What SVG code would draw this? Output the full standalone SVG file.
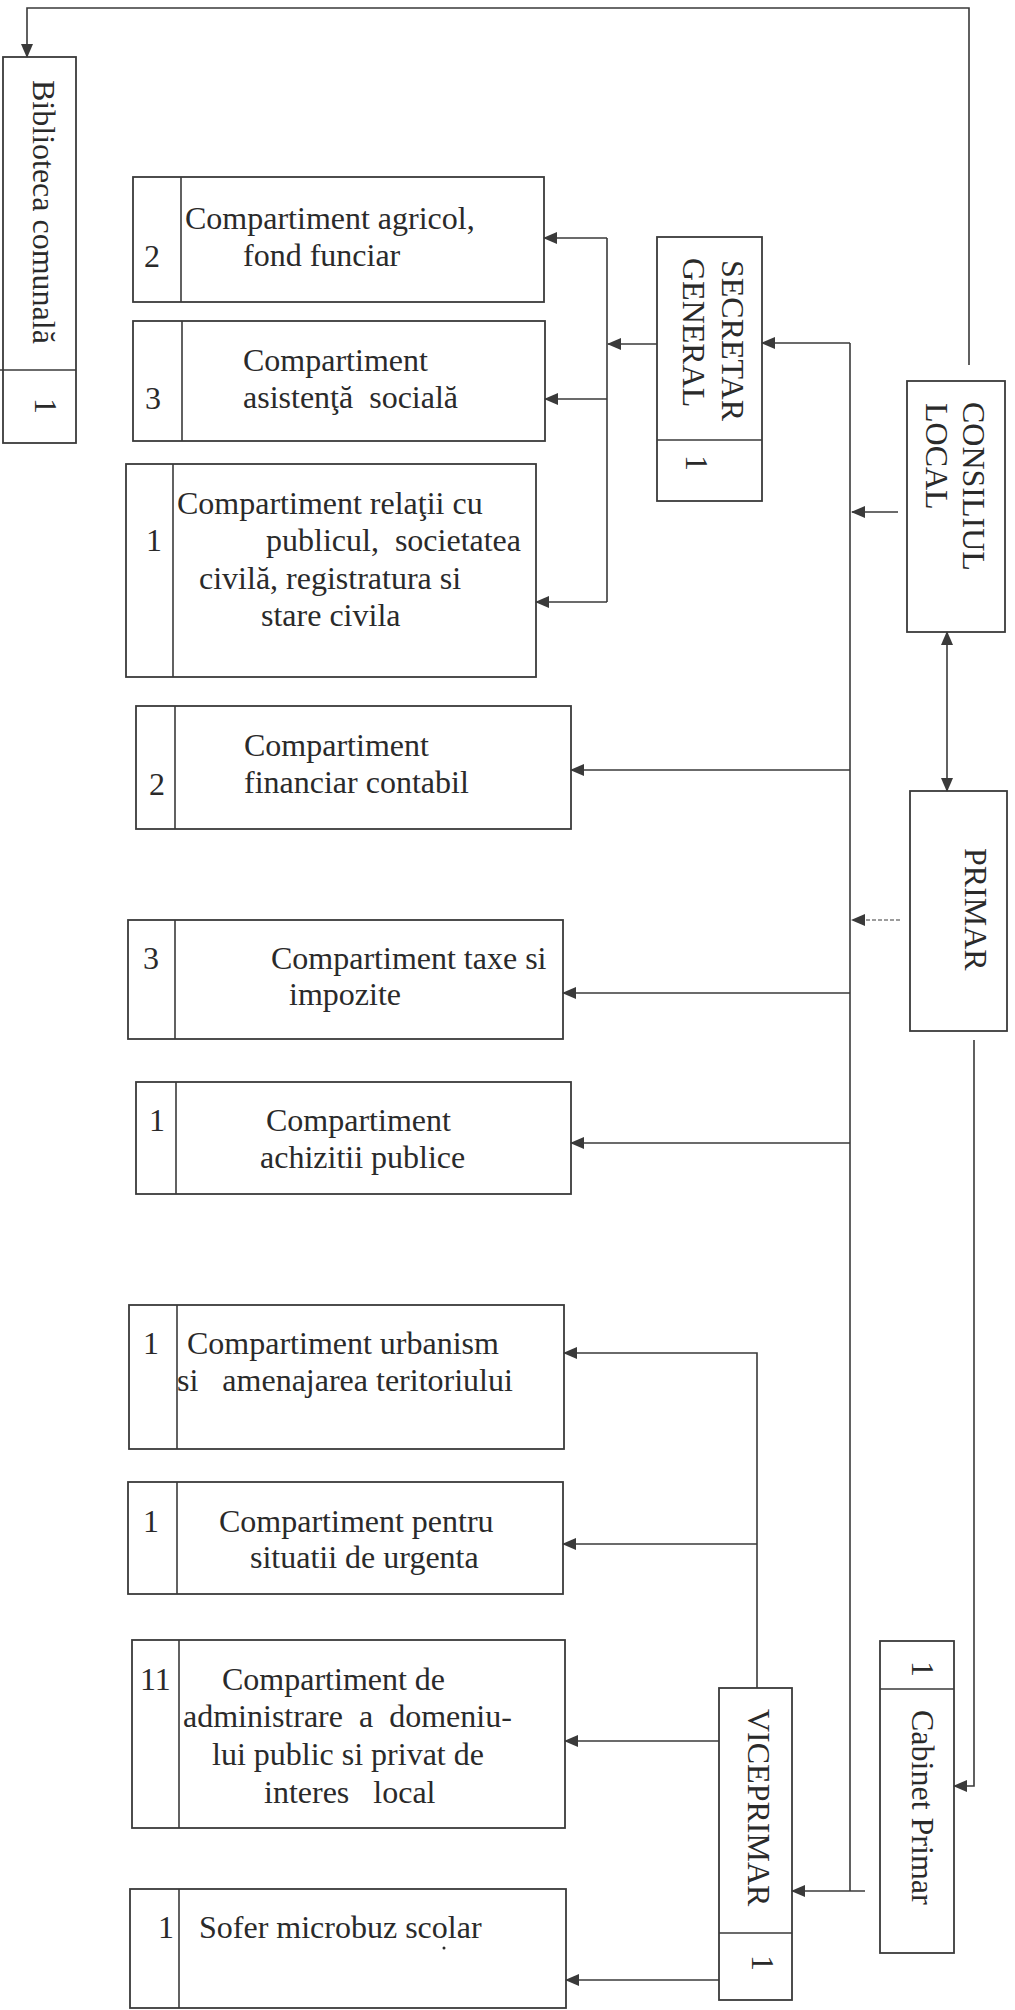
<svg xmlns="http://www.w3.org/2000/svg" width="1015" height="2010" viewBox="0 0 1015 2010">
<style>
.box{fill:none;stroke:#3a3a3a;stroke-width:1.8}
.div{stroke:#3a3a3a;stroke-width:1.6}
.con{fill:none;stroke:#3a3a3a;stroke-width:1.6}
.dash{stroke-dasharray:4 2;stroke-width:1.2}
text{font-family:"Liberation Serif","Times New Roman",serif;font-size:32px;fill:#2a2a2a}
</style>
<defs>
<marker id="arr" markerUnits="userSpaceOnUse" markerWidth="14" markerHeight="12" refX="13" refY="6" orient="auto-start-reverse" viewBox="0 0 14 12">
<path d="M0,0 L14,6 L0,12 z" fill="#3a3a3a"/>
</marker>
</defs>
<rect width="1015" height="2010" fill="#ffffff"/>

<g id="connectors">
<path class="con" d="M969,365 V8 H27 V57" marker-end="url(#arr)"/>
<path class="con" d="M898,512 H852" marker-end="url(#arr)"/>
<path class="con dash" d="M900,920 H852" marker-end="url(#arr)"/>
<path class="con" d="M947,632 V791" marker-start="url(#arr)" marker-end="url(#arr)"/>
<path class="con" d="M850,343 V1891"/>
<path class="con" d="M850,343 H762" marker-end="url(#arr)"/>
<path class="con" d="M865,1891 H792" marker-end="url(#arr)"/>
<path class="con" d="M657,344 H608" marker-end="url(#arr)"/>
<path class="con" d="M607,238 V602"/>
<path class="con" d="M607,238 H544" marker-end="url(#arr)"/>
<path class="con" d="M607,399 H545" marker-end="url(#arr)"/>
<path class="con" d="M607,602 H536" marker-end="url(#arr)"/>
<path class="con" d="M850,770 H571" marker-end="url(#arr)"/>
<path class="con" d="M850,993 H563" marker-end="url(#arr)"/>
<path class="con" d="M850,1143 H571" marker-end="url(#arr)"/>
<path class="con" d="M974,1040 V1786 H954" marker-end="url(#arr)"/>
<path class="con" d="M757,1688 V1353 H564" marker-end="url(#arr)"/>
<path class="con" d="M757,1544 H563" marker-end="url(#arr)"/>
<path class="con" d="M719,1741 H565" marker-end="url(#arr)"/>
<path class="con" d="M719,1980 H566" marker-end="url(#arr)"/>
</g>

<g id="biblioteca">
<rect class="box" x="3" y="57" width="73" height="386"/>
<line class="div" x1="0" y1="370" x2="76" y2="370"/>
<text transform="translate(33,80) rotate(90)">Biblioteca comunală</text>
<text transform="translate(35,398) rotate(90)">1</text>
</g>

<g id="consiliul">
<rect class="box" x="907" y="381" width="98" height="251"/>
<text transform="translate(963,402) rotate(90)">CONSILIUL</text>
<text transform="translate(926,403) rotate(90)">LOCAL</text>
</g>

<g id="primar">
<rect class="box" x="910" y="791" width="97" height="240"/>
<text transform="translate(965,848) rotate(90)">PRIMAR</text>
</g>

<g id="secretar">
<rect class="box" x="657" y="237" width="105" height="264"/>
<line class="div" x1="657" y1="440" x2="762" y2="440"/>
<text transform="translate(722,260) rotate(90)">SECRETAR</text>
<text transform="translate(683,258) rotate(90)">GENERAL</text>
<text transform="translate(686,455) rotate(90)">1</text>
</g>

<g id="agricol">
<rect class="box" x="133" y="177" width="411" height="125"/>
<line class="div" x1="181" y1="177" x2="181" y2="302"/>
<text x="144" y="267">2</text>
<text x="185" y="229">Compartiment agricol,</text>
<text x="243" y="266">fond funciar</text>
</g>

<g id="asistenta">
<rect class="box" x="133" y="321" width="412" height="120"/>
<line class="div" x1="182" y1="321" x2="182" y2="441"/>
<text x="145" y="409">3</text>
<text x="243" y="371">Compartiment</text>
<text x="243" y="408" xml:space="preserve">asistenţă  socială</text>
</g>

<g id="relatii">
<rect class="box" x="126" y="464" width="410" height="213"/>
<line class="div" x1="173" y1="464" x2="173" y2="677"/>
<text x="146" y="551">1</text>
<text x="177" y="514">Compartiment relaţii cu</text>
<text x="266" y="551" xml:space="preserve">publicul,  societatea</text>
<text x="199" y="589">civilă, registratura si</text>
<text x="261" y="626">stare civila</text>
</g>

<g id="financiar">
<rect class="box" x="136" y="706" width="435" height="123"/>
<line class="div" x1="175" y1="706" x2="175" y2="829"/>
<text x="149" y="795">2</text>
<text x="244" y="756">Compartiment</text>
<text x="244" y="793">financiar contabil</text>
</g>

<g id="taxe">
<rect class="box" x="128" y="920" width="435" height="119"/>
<line class="div" x1="175" y1="920" x2="175" y2="1039"/>
<text x="143" y="969">3</text>
<text x="271" y="969">Compartiment taxe si</text>
<text x="289" y="1005">impozite</text>
</g>

<g id="achizitii">
<rect class="box" x="136" y="1082" width="435" height="112"/>
<line class="div" x1="176" y1="1082" x2="176" y2="1194"/>
<text x="149" y="1131">1</text>
<text x="266" y="1131">Compartiment</text>
<text x="260" y="1168">achizitii publice</text>
</g>

<g id="urbanism">
<rect class="box" x="129" y="1305" width="435" height="144"/>
<line class="div" x1="177" y1="1305" x2="177" y2="1449"/>
<text x="143" y="1354">1</text>
<text x="187" y="1354">Compartiment urbanism</text>
<text x="177" y="1391" xml:space="preserve">si   amenajarea teritoriului</text>
</g>

<g id="urgenta">
<rect class="box" x="128" y="1482" width="435" height="112"/>
<line class="div" x1="177" y1="1482" x2="177" y2="1594"/>
<text x="143" y="1532">1</text>
<text x="219" y="1532">Compartiment pentru</text>
<text x="250" y="1568">situatii de urgenta</text>
</g>

<g id="administrare">
<rect class="box" x="132" y="1640" width="433" height="188"/>
<line class="div" x1="179" y1="1640" x2="179" y2="1828"/>
<text x="140" y="1690">11</text>
<text x="222" y="1690">Compartiment de</text>
<text x="183" y="1727" xml:space="preserve">administrare  a  domeniu-</text>
<text x="212" y="1765">lui public si privat de</text>
<text x="264" y="1803" xml:space="preserve">interes   local</text>
</g>

<g id="sofer">
<rect class="box" x="130" y="1889" width="436" height="119"/>
<line class="div" x1="179" y1="1889" x2="179" y2="2008"/>
<text x="158" y="1938">1</text>
<text x="199" y="1938">Sofer microbuz scolar</text>
<circle cx="444" cy="1948" r="1.5" fill="#2a2a2a"/>
</g>

<g id="viceprimar">
<rect class="box" x="719" y="1688" width="73" height="312"/>
<line class="div" x1="719" y1="1933" x2="792" y2="1933"/>
<text transform="translate(748,1709) rotate(90)">VICEPRIMAR</text>
<text transform="translate(752,1955) rotate(90)">1</text>
</g>

<g id="cabinet">
<rect class="box" x="880" y="1641" width="74" height="312"/>
<line class="div" x1="880" y1="1689" x2="954" y2="1689"/>
<text transform="translate(912,1661) rotate(90)">1</text>
<text transform="translate(912,1710) rotate(90)">Cabinet Primar</text>
</g>
</svg>
